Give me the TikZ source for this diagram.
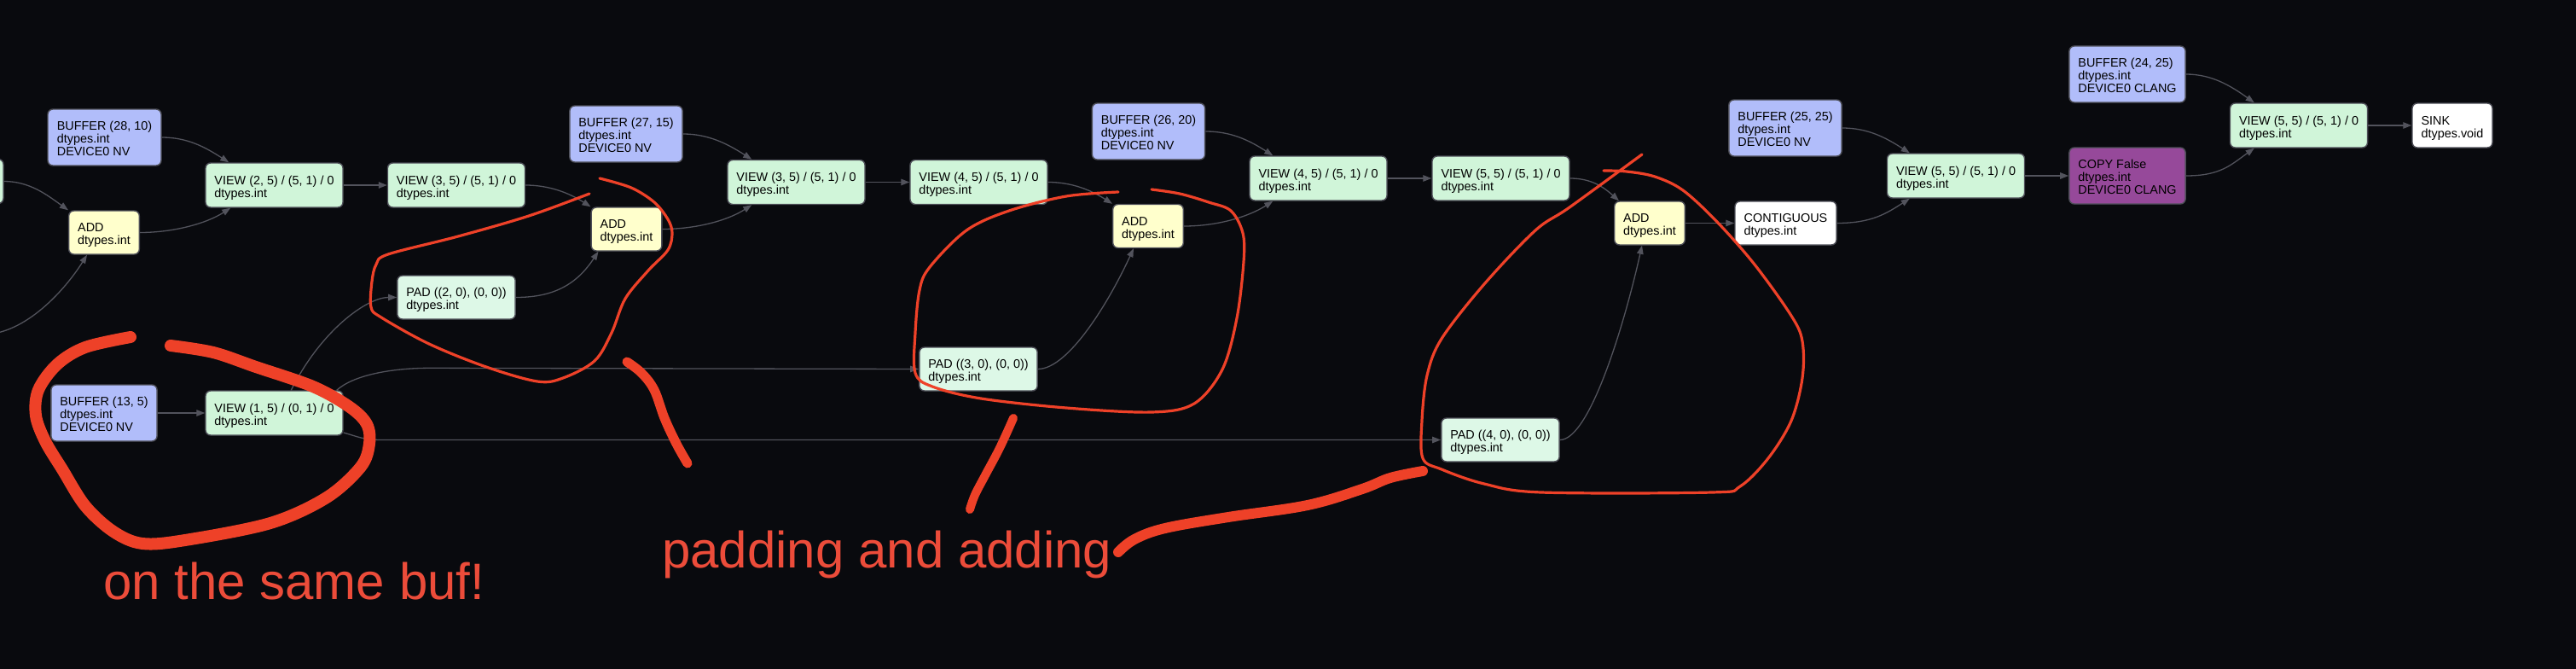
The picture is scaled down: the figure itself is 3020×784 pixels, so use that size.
\documentclass[tikz,border=0pt]{standalone}
\usepackage{fontspec}
\setmainfont{Liberation Sans}
\usetikzlibrary{arrows.meta}
\definecolor{bg}{RGB}{9,10,14}
\definecolor{bufc}{RGB}{177,189,250}
\definecolor{viewc}{RGB}{208,245,217}
\definecolor{padc}{RGB}{221,248,231}
\definecolor{addc}{RGB}{255,255,204}
\definecolor{copyc}{RGB}{150,73,154}
\definecolor{bordc}{RGB}{78,79,88}
\definecolor{edgec}{RGB}{82,83,92}
\definecolor{redc}{RGB}{238,65,40}
\definecolor{redt}{RGB}{236,76,58}
\newcommand\nstwo{\rule{0pt}{16.5pt}}
\newcommand\nsthree{\rule{0pt}{13pt}}
\tikzset{
  gv/.style={draw=bordc, line width=1.4pt, rounded corners=6pt, inner xsep=10.5pt, inner ysep=0pt,
    align=left, font=\fontsize{14.4}{14.6}\selectfont, text=black, anchor=center},
  w/.style={minimum width=#1pt},
  bufn/.style={gv, fill=bufc, minimum height=66pt},
  viewn/.style={gv, fill=viewc, minimum height=52pt, w=161},
  padn/.style={gv, fill=padc, minimum height=51pt, w=138},
  addn/.style={gv, fill=addc, minimum height=51pt, w=82},
  whiten/.style={gv, fill=white, minimum height=51pt},
  copyn/.style={gv, fill=copyc, minimum height=66pt},
  edge/.style={draw=edgec, line width=1.3pt, -{Triangle[length=10pt,width=7.5pt]}},
  redthin/.style={draw=redc, line width=3.2pt, line cap=round, line join=round},
  redthick/.style={draw=redc, line width=14pt, line cap=round, line join=round},
  redmid/.style={draw=redc, line width=11pt, line cap=round, line join=round},
  note/.style={text=redt, font=\fontsize{60}{66}\selectfont, anchor=base west, inner sep=0pt},
}
\begin{document}
\begin{tikzpicture}[x=1pt,y=-1pt]
\useasboundingbox (0,0) rectangle (3020,784);
\fill[bg] (0,0) rectangle (3020,784);
\clip (0,0) rectangle (3020,784);

% nodes
\node[viewn] (cut) at (-76.5,212.5) {};
\node[bufn,w=133] (buf1) at (122.5,161) {\nsthree BUFFER (28, 10)\\dtypes.int\\DEVICE0 NV};
\node[addn] (add1) at (122,272.5) {\nstwo ADD\\dtypes.int};
\node[viewn] (view1) at (321.5,217) {\nstwo VIEW (2, 5) / (5, 1) / 0\\dtypes.int};
\node[viewn] (view2) at (535,217) {\nstwo VIEW (3, 5) / (5, 1) / 0\\dtypes.int};
\node[padn] (pad1) at (535,348.5) {\nstwo PAD ((2, 0), (0, 0))\\dtypes.int};
\node[bufn,w=124] (buf2) at (122,484) {\nsthree BUFFER (13, 5)\\dtypes.int\\DEVICE0 NV};
\node[viewn] (view0) at (321.5,484) {\nstwo VIEW (1, 5) / (0, 1) / 0\\dtypes.int};
\node[bufn,w=132] (buf3) at (734,157) {\nsthree BUFFER (27, 15)\\dtypes.int\\DEVICE0 NV};
\node[addn] (add2) at (734.5,268.5) {\nstwo ADD\\dtypes.int};
\node[viewn] (view3) at (933.5,213.5) {\nstwo VIEW (3, 5) / (5, 1) / 0\\dtypes.int};
\node[viewn] (view4) at (1147.5,213.5) {\nstwo VIEW (4, 5) / (5, 1) / 0\\dtypes.int};
\node[padn] (pad2) at (1147,432.5) {\nstwo PAD ((3, 0), (0, 0))\\dtypes.int};
\node[bufn,w=131] (buf4) at (1346.5,154) {\nsthree BUFFER (26, 20)\\dtypes.int\\DEVICE0 NV};
\node[addn] (add3) at (1346,265) {\nstwo ADD\\dtypes.int};
\node[viewn] (view5) at (1545.5,209) {\nstwo VIEW (4, 5) / (5, 1) / 0\\dtypes.int};
\node[viewn] (view6) at (1759.5,209) {\nstwo VIEW (5, 5) / (5, 1) / 0\\dtypes.int};
\node[padn] (pad3) at (1759,515.5) {\nstwo PAD ((4, 0), (0, 0))\\dtypes.int};
\node[bufn,w=132] (buf5) at (2093,150) {\nsthree BUFFER (25, 25)\\dtypes.int\\DEVICE0 NV};
\node[addn] (add4) at (1934,261.5) {\nstwo ADD\\dtypes.int};
\node[whiten,w=119] (contig) at (2093.5,261.5) {\nstwo CONTIGUOUS\\dtypes.int};
\node[viewn,w=160] (view7) at (2293,206) {\nstwo VIEW (5, 5) / (5, 1) / 0\\dtypes.int};
\node[bufn,w=136] (buf6) at (2494,87) {\nsthree BUFFER (24, 25)\\dtypes.int\\DEVICE0 CLANG};
\node[copyn,w=136] (copy) at (2494,206) {\nsthree COPY False\\dtypes.int\\DEVICE0 CLANG};
\node[viewn,w=160] (view8) at (2695,147) {\nstwo VIEW (5, 5) / (5, 1) / 0\\dtypes.int};
\node[whiten,w=94,minimum height=52pt] (sink) at (2875,147) {\nstwo SINK\\dtypes.void};

% connectors
\coordinate (offL) at (-20,392);
\draw[edge] (cut.east) .. controls +(30,0) and +(-25,-18) .. (add1.north west);
\draw[edge] (offL) .. controls +(50,0) and +(-25,40) .. ([xshift=-20pt]add1.south);
\draw[edge] (buf1.east) .. controls +(30,0) and +(-28,-18) .. ([xshift=28pt]view1.north west);
\draw[edge] (add1.east) .. controls +(40,0) and +(-28,18) .. ([xshift=30pt]view1.south west);
\draw[edge] (view1.east) -- (view2.west);
\draw[edge] (view2.east) .. controls +(28,0) and +(-25,-16) .. (add2.north west);
\draw[edge] (pad1.east) .. controls +(45,0) and +(-25,38) .. ([xshift=9pt]add2.south west);
\draw[edge] ([xshift=101pt]view0.north west) .. controls +(35,-70) and +(-35,0) .. (pad1.west);
\draw[edge] ([xshift=-8pt]view0.north east) .. controls +(20,-18) and +(-45,0) .. ++(110,-26) -- (pad2.west);
\draw[edge] ([yshift=-23pt]view0.east) .. controls +(18,5) and +(-22,0) .. ++(45,8.5) -- (pad3.west);
\draw[edge] (buf2.east) -- (view0.west);
\draw[edge] (buf3.east) .. controls +(30,0) and +(-28,-18) .. ([xshift=29pt]view3.north west);
\draw[edge] (add2.east) .. controls +(40,0) and +(-28,18) .. ([xshift=29pt]view3.south west);
\draw[edge] (view3.east) -- (view4.west);
\draw[edge] (view4.east) .. controls +(28,0) and +(-25,-16) .. (add3.north west);
\draw[edge] (pad2.east) .. controls +(35,0) and +(-30,65) .. ([xshift=25pt]add3.south west);
\draw[edge] (buf4.east) .. controls +(30,0) and +(-28,-18) .. ([xshift=28pt]view5.north west);
\draw[edge] (add3.east) .. controls +(40,0) and +(-28,18) .. ([xshift=28pt]view5.south west);
\draw[edge] (view5.east) -- (view6.west);
\draw[edge] (view6.east) .. controls +(25,0) and +(-18,-16) .. ([xshift=6pt]add4.north west);
\draw[edge] (pad3.east) .. controls +(35,0) and +(-20,90) .. ([xshift=33pt]add4.south west);
\draw[edge] (add4.east) -- (contig.west);
\draw[edge] (buf5.east) .. controls +(30,0) and +(-28,-18) .. ([xshift=27pt]view7.north west);
\draw[edge] (contig.east) .. controls +(40,0) and +(-28,18) .. ([xshift=27pt]view7.south west);
\draw[edge] (view7.east) -- (copy.west);
\draw[edge] (buf6.east) .. controls +(30,0) and +(-28,-20) .. ([xshift=29pt]view8.north west);
\draw[edge] (copy.east) .. controls +(40,0) and +(-28,20) .. ([xshift=29pt]view8.south west);
\draw[edge] (view8.east) -- (sink.west);

% red annotations
\draw[redthick] plot[smooth, tension=0.55] coordinates {(153,395) (100,407) (67,427) (45,457) (42,487) (53,517) (73,550) (100,593) (133,623) (167,637) (217,633) (317,613) (383,583) (423,547) (433,520) (430,497) (410,477) (367,453) (300,430) (250,413) (200,405)};
\draw[redthin] plot[smooth, tension=0.55] coordinates {(691,227) (620,253) (537,277) (455,298) (441,310) (436,330) (435,360) (447,372) (503,403) (570,430) (630,447) (660,443) (697,423) (717,390) (733,350) (760,317) (783,293) (788,273) (783,257) (767,237) (740,220) (703,209)};
\draw[redthin] plot[smooth, tension=0.55] coordinates {(1311,225) (1250,230) (1183,247) (1133,270) (1090,313) (1078,340) (1073,390) (1073,437) (1093,453) (1150,467) (1250,478) (1350,483) (1400,473) (1433,433) (1450,373) (1458,307) (1457,273) (1443,247) (1417,237) (1383,227) (1350,222)};
\draw[redthin] plot[smooth, tension=0.55] coordinates {(1925,181) (1840,243) (1800,270) (1740,333) (1690,397) (1673,440) (1667,493) (1668,537) (1690,550) (1740,567) (1807,577) (2007,577) (2040,570) (2073,537) (2100,493) (2113,443) (2113,400) (2100,370) (2057,310) (2013,260) (1973,223) (1940,207) (1907,201) (1880,200)};
\draw[redmid] plot[smooth, tension=0.6] coordinates {(735,424) (752,437) (767,457) (779,490) (793,520) (806,543)};
\draw[redmid, line width=10pt] plot[smooth, tension=0.6] coordinates {(1188,490) (1172,525) (1155,557) (1143,580) (1137,597)};
\draw[redmid, line width=12pt] plot[smooth, tension=0.6] coordinates {(1311,647) (1330,632) (1366,619) (1440,606) (1533,592) (1597,573) (1630,560) (1668,552)};

\node[note] (t1) at (121,702) {on the same buf!};
\node[note] (t2) at (776,665) {padding and adding};
\end{tikzpicture}
\end{document}
